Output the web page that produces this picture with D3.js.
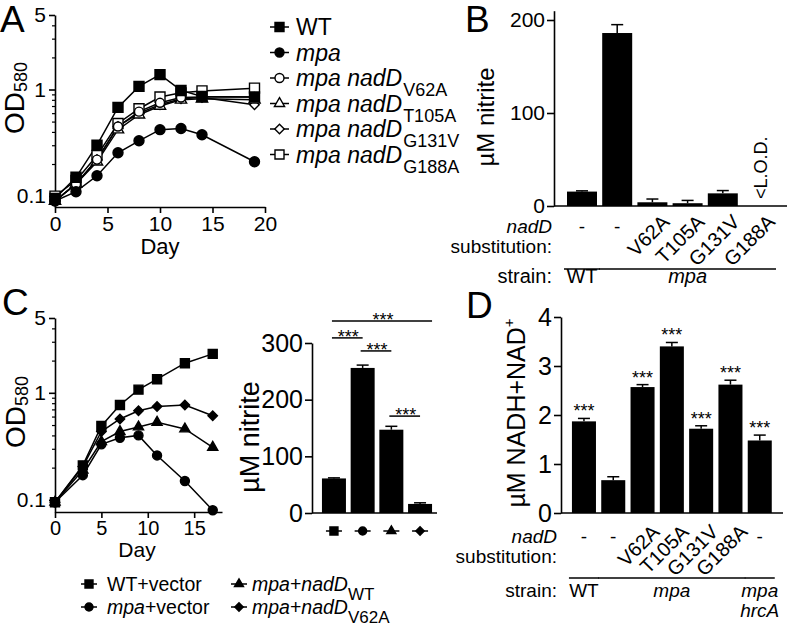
<!DOCTYPE html>
<html>
<head>
<meta charset="utf-8">
<script src="https://cdn.jsdelivr.net/npm/d3@7"></script>
<style>
body{margin:0;background:#fff}
svg text{font-family:"Liberation Sans",Arial,Helvetica,sans-serif;fill:#000}
</style>
</head>
<body>
<svg id="fig" width="793" height="627"></svg>
<script>
// ---- data ----
// Panel A: growth curves (OD580 vs day)
var daysA = [0, 2, 4, 6, 8, 10, 12, 14, 19];
var odA_WT    = [0.095, 0.15, 0.30, 0.68, 1.07, 1.38, 0.98, 0.86, 0.85];
var odA_mpa   = [0.09, 0.11, 0.155, 0.255, 0.33, 0.42, 0.43, 0.376, 0.21];
var odA_V62A  = [0.09, 0.13, 0.22, 0.45, 0.62, 0.75, 0.84, 0.85, 0.85];
var odA_T105A = [0.09, 0.13, 0.21, 0.42, 0.58, 0.70, 0.80, 0.82, 0.80];
var odA_G131V = [0.09, 0.13, 0.22, 0.45, 0.60, 0.72, 0.82, 0.84, 0.72];
var odA_G188A = [0.10, 0.14, 0.24, 0.48, 0.66, 0.85, 0.93, 0.97, 1.03];
var namesA = ["WT", "mpa", "mpa nadD", "mpa nadD", "mpa nadD", "mpa nadD"];
var subsA  = ["", "", "V62A", "T105A", "G131V", "G188A"];
var yTicksLog = [0.1, 1, 5];
var yMinorLog = [0.2, 0.3, 0.4, 0.5, 0.6, 0.7, 0.8, 0.9, 2, 3, 4];
var xTicksA = [0, 5, 10, 15, 20];

// Panel B: nitrite
var subsB = ["-", "-", "V62A", "T105A", "G131V", "G188A"];
var nitriteB = [15.5, 186, 4, 3, 13.6, 0];
var nitriteBErr = [0.8, 9, 3.5, 3, 3, 0];
var yTicksB = [0, 100, 200];

// Panel C: growth curves + nitrite
var daysC = [0, 3, 5, 7, 9, 11, 14, 17];
var odC_WT     = [0.095, 0.21, 0.49, 0.77, 1.07, 1.34, 1.89, 2.31];
var odC_mpa    = [0.095, 0.17, 0.33, 0.38, 0.40, 0.26, 0.15, 0.08];
var odC_nadWT  = [0.095, 0.19, 0.35, 0.435, 0.48, 0.53, 0.46, 0.31];
var odC_nadV62A = [0.095, 0.205, 0.435, 0.57, 0.68, 0.745, 0.77, 0.61];
var xTicksC = [0, 5, 10, 15];
var nitriteC = [61, 256, 147, 16];
var nitriteCErr = [1, 5, 6, 2];
var yTicksC = [0, 100, 200, 300];
// significance brackets: [from bar, to bar, level in µM]
var sigC = [[0, 3, 339], [0, 1, 309], [1, 2, 286], [2, 3, 171]];

// Panel D: NADH + NAD+
var subsD = ["-", "-", "V62A", "T105A", "G131V", "G188A", "-"];
var nadValues = [1.87, 0.67, 2.57, 3.40, 1.72, 2.62, 1.48];
var nadErr = [0.06, 0.07, 0.05, 0.08, 0.06, 0.09, 0.11];
var nadStars = ["***", "", "***", "***", "***", "***", "***"];
var yTicksD = [0, 1, 2, 3, 4];

// ---- helpers ----
var svg = d3.select("#fig");
svg.append("rect").attr("width", 793).attr("height", 627).attr("fill", "#fff");

function marker(g, kind, open, x, y, s){
  var type = kind == "circle" ? d3.symbolCircle : kind == "triangle" ? d3.symbolTriangle : d3.symbolSquare;
  var area = kind == "circle" ? Math.PI*s*s/4 : kind == "triangle" ? 0.55*s*s : kind == "diamond" ? 0.55*s*s : s*s;
  g.append("path")
    .attr("d", d3.symbol(type, area)())
    .attr("transform", "translate(" + x + "," + y + ")" + (kind == "diamond" ? " rotate(45)" : ""))
    .attr("fill", open ? "#fff" : "#000")
    .attr("stroke", "#000")
    .attr("stroke-width", 1.4);
}

function styleAxis(a, fs){
  a.select(".domain").attr("stroke-width", 1.6);
  a.selectAll(".tick line").attr("stroke-width", 1.6);
  a.selectAll("text").attr("font-size", fs).attr("font-family", "Liberation Sans, Arial, sans-serif");
}

function logYAxis(y, x0, fs){
  var a = svg.append("g").attr("transform", "translate(" + x0 + ",0)")
    .call(d3.axisLeft(y).tickValues(yTicksLog).tickFormat(d3.format("~g")).tickSize(6).tickSizeOuter(0).tickPadding(3));
  styleAxis(a, fs);
  var m = svg.append("g").attr("transform", "translate(" + x0 + ",0)")
    .call(d3.axisLeft(y).tickValues(yMinorLog).tickFormat("").tickSize(3).tickSizeOuter(0));
  m.select(".domain").remove();
  m.selectAll(".tick line").attr("stroke-width", 1.2);
}

function linYAxis(y, x0, ticks, fs){
  var a = svg.append("g").attr("transform", "translate(" + x0 + ",0)")
    .call(d3.axisLeft(y).tickValues(ticks).tickFormat(d3.format("d")).tickSize(7).tickSizeOuter(0).tickPadding(2));
  styleAxis(a, fs);
}

function xLine(x0, x1, y0){
  svg.append("line").attr("x1", x0).attr("x2", x1).attr("y1", y0).attr("y2", y0)
    .attr("stroke", "#000").attr("stroke-width", 1.6);
}

function rotLabel(x, y, fs){
  return svg.append("text").attr("transform", "translate(" + x + "," + y + ") rotate(-90)")
    .attr("font-size", fs);
}

function bars(x, y, vals, errs){
  var bw = x.bandwidth();
  vals.forEach(function(v, i){
    var cx = x(i) + bw/2;
    svg.append("rect").attr("x", x(i)).attr("width", bw)
      .attr("y", y(v)).attr("height", y(0) - y(v)).attr("fill", "#000");
    if (errs[i] > 0){
      svg.append("line").attr("x1", cx).attr("x2", cx).attr("y1", y(v)).attr("y2", y(v + errs[i]))
        .attr("stroke", "#000").attr("stroke-width", 1.5);
      svg.append("line").attr("x1", cx - 6).attr("x2", cx + 6).attr("y1", y(v + errs[i])).attr("y2", y(v + errs[i]))
        .attr("stroke", "#000").attr("stroke-width", 1.5);
    }
  });
}

function subLabels(x, subs, xr, yDash, yTop, fs){
  var bw = x.bandwidth();
  subs.forEach(function(s, i){
    var cx = x(i) + bw/2;
    if (s == "-"){
      svg.append("text").attr("x", cx).attr("y", yDash).attr("text-anchor", "middle").attr("font-size", fs).text("-");
    } else {
      svg.append("text").attr("transform", "translate(" + (cx + 8) + "," + yTop + ") rotate(-45)")
        .attr("text-anchor", "end").attr("dy", "0.72em").attr("font-size", fs + 1).text(s);
    }
  });
  svg.append("text").attr("x", xr).attr("y", yDash).attr("text-anchor", "end").attr("font-size", fs)
    .attr("font-style", "italic").text("nadD");
  svg.append("text").attr("x", xr).attr("y", yDash + 20).attr("text-anchor", "end").attr("font-size", fs)
    .text("substitution:");
}

function strainRow(x, groups, xr, yLine, yText, fs){
  var bw = x.bandwidth();
  groups.forEach(function(gp){
    var x0 = x(gp[0]) - 3, x1 = x(gp[1]) + bw + 3;
    svg.append("line").attr("x1", x0).attr("x2", x1).attr("y1", yLine).attr("y2", yLine)
      .attr("stroke", "#000").attr("stroke-width", 1.5);
    var t = svg.append("text").attr("x", (x0 + x1)/2).attr("y", yText).attr("text-anchor", "middle")
      .attr("font-size", fs).attr("font-style", gp[2] == "WT" ? "normal" : "italic");
    gp[2].split("\n").forEach(function(line, k){
      t.append("tspan").attr("x", (x0 + x1)/2).attr("dy", k == 0 ? 0 : 20).text(line);
    });
  });
  svg.append("text").attr("x", xr).attr("y", yText).attr("text-anchor", "end").attr("font-size", fs).text("strain:");
}

function panelLetter(t, x, y){
  svg.append("text").attr("x", x).attr("y", y).attr("font-size", 37).text(t);
}

// ---- Panel A ----
var xA = d3.scaleLinear().domain([0, 20]).range([55, 265]);
var yA = d3.scaleLog().domain([0.079, 5]).range([207, 15]);
var seriesA = [odA_WT, odA_mpa, odA_V62A, odA_T105A, odA_G131V, odA_G188A];
var shapesA = ["square", "circle", "circle", "triangle", "diamond", "square"];
var openA = [false, false, true, true, true, true];
var sizesA = [10, 10, 9, 10, 9, 10];

panelLetter("A", 0, 32);
logYAxis(yA, 55, 21);
var axA = svg.append("g").attr("transform", "translate(0,207)")
  .call(d3.axisBottom(xA).tickValues(xTicksA).tickSize(6).tickSizeOuter(0).tickPadding(3));
styleAxis(axA, 21);
svg.append("text").attr("x", 160).attr("y", 254).attr("text-anchor", "middle").attr("font-size", 22).text("Day");
rotLabel(24, 134, 28).call(function(t){
  t.append("tspan").text("OD");
  t.append("tspan").attr("font-size", 18).attr("dy", 3).text("580");
});

var lineA = d3.line().x(function(d, i){ return xA(daysA[i]); }).y(function(d){ return yA(d); });
seriesA.forEach(function(s){
  svg.append("path").attr("d", lineA(s)).attr("fill", "none").attr("stroke", "#000").attr("stroke-width", 1.5);
});
[5, 4, 3, 2, 1, 0].forEach(function(k){
  var gA = svg.append("g");
  seriesA[k].forEach(function(v, i){ marker(gA, shapesA[k], openA[k], xA(daysA[i]), yA(v), sizesA[k]); });
});

// legend A
namesA.forEach(function(n, k){
  var ly = 27 + k*25.5;
  svg.append("line").attr("x1", 270).attr("x2", 289).attr("y1", ly).attr("y2", ly)
    .attr("stroke", "#000").attr("stroke-width", 1.5);
  marker(svg, shapesA[k], openA[k], 279.5, ly, 9);
  var t = svg.append("text").attr("x", 296).attr("y", ly + 8).attr("font-size", 23);
  t.append("tspan").attr("font-style", n == "WT" ? "normal" : "italic").text(n);
  if (subsA[k]) t.append("tspan").attr("font-size", 18).attr("dy", 10).attr("dx", 1).text(subsA[k]);
});

// ---- Panel B ----
var xB = d3.scaleBand().domain(d3.range(subsB.length)).range([564.4, 775.6]).paddingInner(0.148).paddingOuter(0.074);
var yB = d3.scaleLinear().domain([0, 210]).range([206, 10.7]);
panelLetter("B", 465, 32);
bars(xB, yB, nitriteB, nitriteBErr);
linYAxis(yB, 554, yTicksB, 21);
xLine(554, 787, 206);
rotLabel(494, 117, 24).attr("text-anchor", "middle").text("µM nitrite");
svg.append("text").attr("transform", "translate(767,199) rotate(-90)").attr("font-size", 18).text("<L.O.D.");
subLabels(xB, subsB, 552, 233, 213, 19);
strainRow(xB, [[0, 0, "WT"], [1, 5, "mpa"]], 552, 269, 283, 20);

// ---- Panel C (left) ----
var xC = d3.scaleLinear().domain([0, 18]).range([55, 222]);
var yC = d3.scaleLog().domain([0.077, 5]).range([512, 318]);
var seriesC = [odC_WT, odC_mpa, odC_nadWT, odC_nadV62A];
var shapesC = ["square", "circle", "triangle", "diamond"];
// legend text pieces: [text, italic]
var namesC = [[["WT+vector", false]], [["mpa", true], ["+vector", false]],
              [["mpa", true], ["+", false], ["nadD", true]], [["mpa", true], ["+", false], ["nadD", true]]];
var subsC = ["", "", "WT", "V62A"];

panelLetter("C", 2, 315);
logYAxis(yC, 55, 21);
var axC = svg.append("g").attr("transform", "translate(0,512)")
  .call(d3.axisBottom(xC).tickValues(xTicksC).tickSize(6).tickSizeOuter(0).tickPadding(3));
styleAxis(axC, 20);
svg.append("text").attr("x", 137).attr("y", 557).attr("text-anchor", "middle").attr("font-size", 21).text("Day");
rotLabel(25, 448, 28).call(function(t){
  t.append("tspan").text("OD");
  t.append("tspan").attr("font-size", 18).attr("dy", 3).text("580");
});
var lineC = d3.line().x(function(d, i){ return xC(daysC[i]); }).y(function(d){ return yC(d); });
seriesC.forEach(function(s){
  svg.append("path").attr("d", lineC(s)).attr("fill", "none").attr("stroke", "#000").attr("stroke-width", 1.5);
});
seriesC.forEach(function(s, k){
  s.forEach(function(v, i){ marker(svg, shapesC[k], false, xC(daysC[i]), yC(v), 9); });
});

// legend C (2 columns)
namesC.forEach(function(parts, k){
  var col = Math.floor(k/2), row = k % 2;
  var mx = col == 0 ? 89 : 239, ly = row == 0 ? 584 : 607;
  svg.append("line").attr("x1", mx - 8).attr("x2", mx + 8).attr("y1", ly).attr("y2", ly)
    .attr("stroke", "#000").attr("stroke-width", 1.5);
  marker(svg, shapesC[k], false, mx, ly, 8);
  var t = svg.append("text").attr("x", mx + (col == 0 ? 18 : 13)).attr("y", ly + 7).attr("font-size", 19.5);
  parts.forEach(function(p){
    t.append("tspan").attr("font-style", p[1] ? "italic" : "normal").text(p[0]);
  });
  if (subsC[k]) t.append("tspan").attr("font-size", 17).attr("dy", 9).text(subsC[k]);
});

// ---- Panel C (right) ----
var xC2 = d3.scaleBand().domain(d3.range(nitriteC.length)).range([319.6, 434.4]).paddingInner(0.164).paddingOuter(0.082);
var yC2 = d3.scaleLinear().domain([0, 300]).range([513, 343]);
bars(xC2, yC2, nitriteC, nitriteCErr);
linYAxis(yC2, 312, yTicksC, 25);
xLine(312, 437, 513);
rotLabel(259, 437, 27).attr("text-anchor", "middle").text("µM nitrite");
shapesC.forEach(function(s, i){
  var cx = xC2(i) + xC2.bandwidth()/2;
  svg.append("line").attr("x1", cx - 8).attr("x2", cx + 8).attr("y1", 531).attr("y2", 531)
    .attr("stroke", "#000").attr("stroke-width", 1.5);
  marker(svg, s, false, cx, 531, 8);
});
sigC.forEach(function(b){
  var c0 = xC2(b[0]) + xC2.bandwidth()/2, c1 = xC2(b[1]) + xC2.bandwidth()/2;
  if (b[1] - b[0] > 1) c1 += 12;
  var ly = yC2(b[2]);
  svg.append("line").attr("x1", c0 - 2).attr("x2", c1).attr("y1", ly).attr("y2", ly)
    .attr("stroke", "#000").attr("stroke-width", 1.5);
  svg.append("text").attr("x", (c0 + c1)/2).attr("y", ly + 5).attr("text-anchor", "middle")
    .attr("font-size", 18).text("***");
});

// ---- Panel D ----
var xD = d3.scaleBand().domain(d3.range(nadValues.length)).range([569.3, 774.4]).paddingInner(0.18).paddingOuter(0.09);
var yD = d3.scaleLinear().domain([0, 4]).range([513, 317]);
panelLetter("D", 466, 318);
bars(xD, yD, nadValues, nadErr);
linYAxis(yD, 561, yTicksD, 25);
xLine(561, 783, 513);
rotLabel(525, 413, 25).attr("text-anchor", "middle").call(function(t){
  t.append("tspan").text("µM NADH+NAD");
  t.append("tspan").attr("font-size", 15).attr("dy", -11).text("+");
});
nadStars.forEach(function(s, i){
  if (!s) return;
  svg.append("text").attr("x", xD(i) + xD.bandwidth()/2).attr("y", yD(nadValues[i] + nadErr[i]) - 1)
    .attr("text-anchor", "middle").attr("font-size", 18).text(s);
});
subLabels(xD, subsD, 557, 543, 523, 19);
strainRow(xD, [[0, 0, "WT"], [1, 5, "mpa"], [6, 6, "mpa\nhrcA"]], 557, 578, 597, 19);
</script>
</body>
</html>
